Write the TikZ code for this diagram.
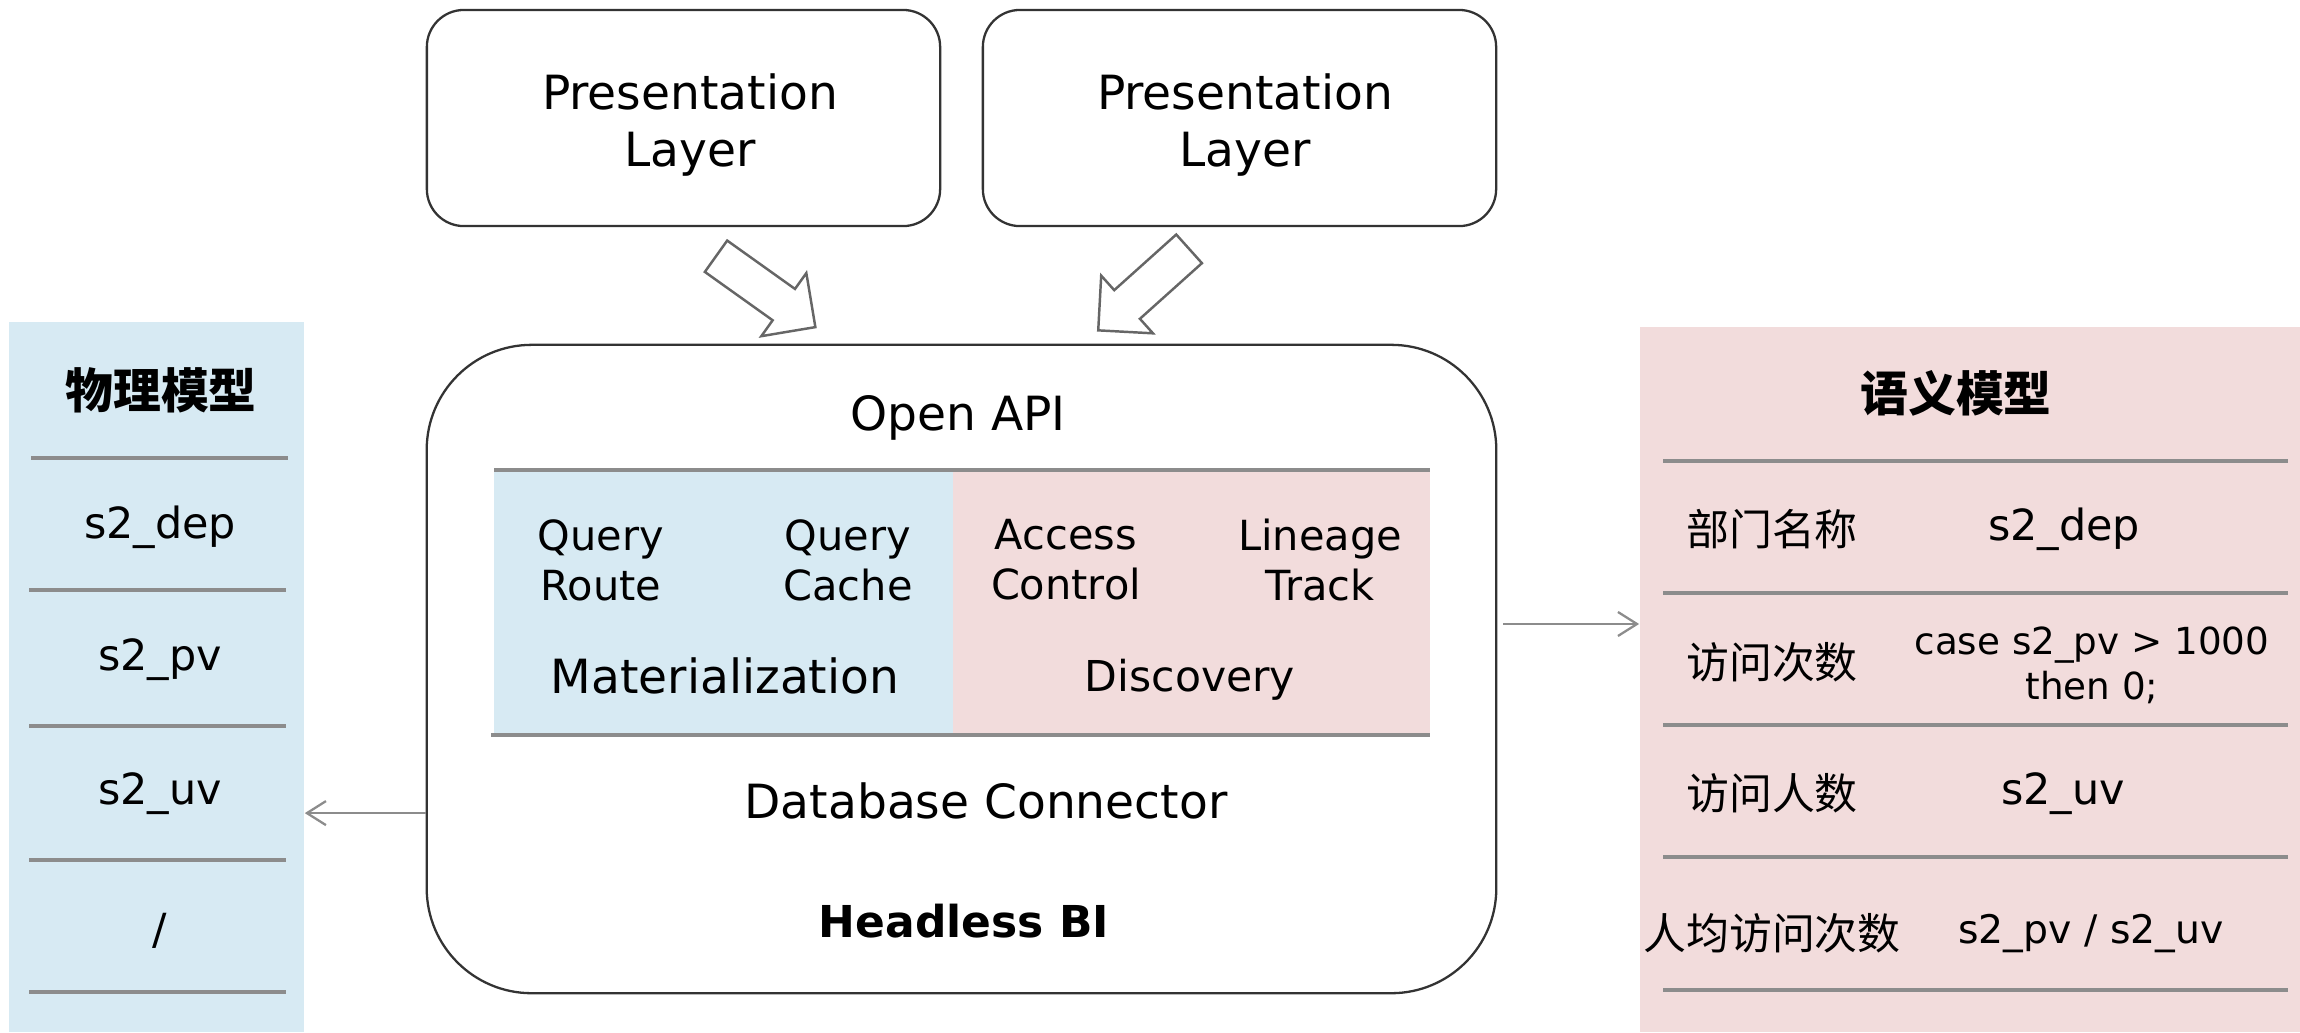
\documentclass[tikz,border=0pt]{standalone}
\usepackage{fontspec}
\setmainfont{DejaVu Sans}
\newfontfamily\cjk{Noto Sans CJK SC}
\usepackage{tikz}
\usetikzlibrary{arrows.meta,shapes.arrows}
\definecolor{physblue}{HTML}{D7EAF3}
\definecolor{sempink}{HTML}{F2DCDC}
\definecolor{rulegray}{HTML}{8C8C8C}
\definecolor{edgegray}{HTML}{333333}

\begin{document}
\begin{tikzpicture}[
    x=0.01cm, y=-0.01cm,
    pres/.style={draw=edgegray, line width=0.65pt, rounded corners=0.37cm,
      minimum width=5.13cm, minimum height=2.16cm},
    hub/.style={draw=edgegray, line width=0.65pt, rounded corners=1.05cm,
      minimum width=10.69cm, minimum height=6.48cm},
    panel/.style={inner sep=0pt},
    title/.style={font=\cjk\bfseries\fontsize{13.6}{16}\selectfont},
    item/.style={font=\fontsize{12.2}{14.6}\selectfont, align=center},
    cjkitem/.style={font=\cjk\fontsize{12.2}{14.6}\selectfont},
    layer/.style={font=\fontsize{13.4}{16.2}\selectfont, align=center},
    module/.style={font=\fontsize{11.8}{14.2}\selectfont, align=center},
    rowline/.style={draw=rulegray, line width=1.1pt},
    conn/.style={-{Straight Barb[length=1.9mm,width=2.4mm]}, draw=rulegray, line width=0.65pt},
    fat/.style={shape=single arrow, draw=black!60, line width=0.7pt, fill=white,
      inner xsep=0pt, inner ysep=0.18cm, minimum height=1.22cm,
      single arrow head extend=0.195cm, single arrow tip angle=90, anchor=tail}
  ]
    \useasboundingbox (0,0) rectangle (2300,1032);

    % side panels
    \node[panel, fill=physblue, minimum width=2.95cm, minimum height=7.10cm] (phys) at (156.5,677) {};
    \node[panel, fill=sempink, minimum width=6.60cm, minimum height=7.05cm] (sem) at (1970,679.5) {};

    % top layers
    \node[pres] (pres1) at (683.5,118) {};
    \node[pres] (pres2) at (1239.5,118) {};
    \node[layer] (pres1t) at (690,125) {Presentation\\Layer};
    \node[layer] (pres2t) at (1245,125) {Presentation\\Layer};

    % headless bi
    \node[hub] (bi) at (961.5,669) {};
    \fill[physblue] (494,470) rectangle (953,735);
    \fill[sempink] (953,470) rectangle (1430,735);
    \draw[rowline] (494,470) -- (1430,470);
    \draw[rowline] (491,735) -- (1430,735);

    \node[layer] (api) at (958,418) {Open API};
    \node[module] (route) at (601,560) {Query\\Route};
    \node[module] (cache) at (848,560) {Query\\Cache};
    \node[module] (access) at (1066,560) {Access\\Control};
    \node[module] (lineage) at (1320,560) {Lineage\\Track};
    \node[layer] (mat) at (725,676) {Materialization};
    \node[layer, font=\fontsize{12.1}{14.5}\selectfont] (disc) at (1190,680) {Discovery};
    \node[layer] (dbconn) at (986,801) {Database Connector};
    \node[font=\bfseries\fontsize{12.5}{15}\selectfont] (bilabel) at (964,921) {Headless BI};

    % block arrows
    \node[fat, rotate=-35.5] (fat1) at (715,255.5) {};
    \node[fat, rotate=-138.1] (fat2) at (1190,248) {};

    % physical model
    \node[title] (physt) at (161,390) {物理模型};
    \foreach \y/\a/\b in {458/31/288, 590/29/286, 726/29/286, 860/29/286, 992/29/286}
      \draw[rowline] (\a,\y) -- (\b,\y);
    \node[item] (pdep) at (160,527) {s2\_dep};
    \node[item] (ppv) at (160,660) {s2\_pv};
    \node[item] (puv) at (160,794) {s2\_uv};
    \node[item] (pslash) at (160,931) {/};

    % semantic model
    \node[title] (semt) at (1956,393) {语义模型};
    \foreach \y in {461,593,725,857,990}
      \draw[rowline] (1663,\y) -- (2288,\y);
    \node[cjkitem] (sdepk) at (1772,529) {部门名称};
    \node[item] (sdepv) at (2064,529) {s2\_dep};
    \node[cjkitem] (spvk) at (1772,662) {访问次数};
    \node[item, font=\fontsize{10.6}{12.8}\selectfont] (spvv) at (2092,665) {case s2\_pv > 1000\\then 0;};
    \node[cjkitem] (suvk) at (1772,793) {访问人数};
    \node[item] (suvv) at (2063,794) {s2\_uv};
    \node[cjkitem] (savgk) at (1772,933) {人均访问次数};
    \node[item, font=\fontsize{11.2}{13.4}\selectfont] (savgv) at (2091,933) {s2\_pv / s2\_uv};

    \draw[conn] ([yshift=-1.44cm]bi.west) -- ([yshift=-1.44cm]bi.west -| phys.east);
    \draw[conn] ([xshift=0.06cm,yshift=0.45cm]bi.east) -- ([yshift=0.45cm]bi.east -| sem.west);
  \end{tikzpicture}
\end{document}
